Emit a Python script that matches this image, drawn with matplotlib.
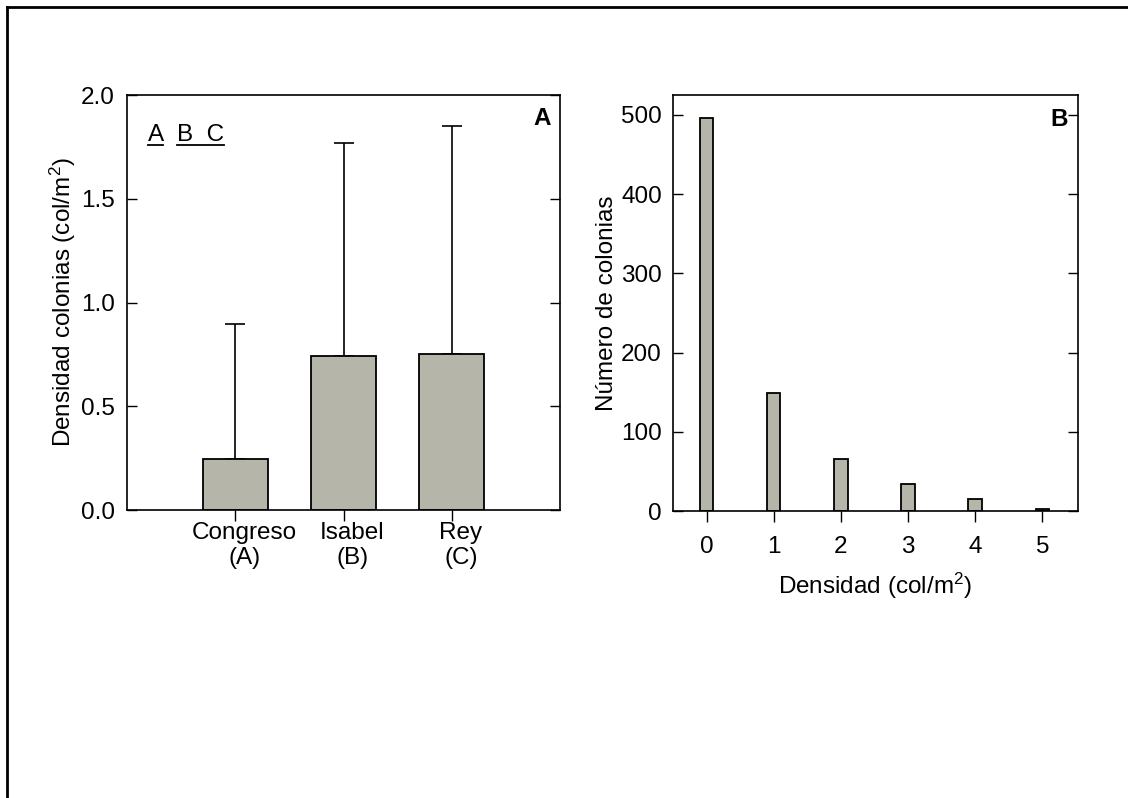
import numpy as np
import matplotlib
matplotlib.use("Agg")
import matplotlib.pyplot as plt
from matplotlib.lines import Line2D
from matplotlib.transforms import ScaledTranslation, blended_transform_factory

plt.rcParams["font.family"] = ["Liberation Sans", "DejaVu Sans"]
plt.rcParams["mathtext.fontset"] = "custom"
plt.rcParams["mathtext.rm"] = "Liberation Sans"
plt.rcParams["mathtext.it"] = "Liberation Sans"

# Panel A: mean density per site with upper SD
sites = ["Congreso\n(A)", "Isabel\n(B)", "Rey\n(C)"]
density_mean = [0.245, 0.744, 0.752]
density_upper = [0.898, 1.770, 1.850]

# Panel B: frequency of colony densities
density_class = [0, 1, 2, 3, 4, 5]
n_colonies = [496, 149, 66, 34, 15, 2]

bar_color = "#b5b5a9"
fs = 17.5

fig = plt.figure(figsize=(11.28, 7.98), dpi=100)

# frame lines of the original (left and top only)
fig.add_artist(Line2D([6.5 / 1128, 6.5 / 1128], [0, 1 - 7 / 798], transform=fig.transFigure,
                      color="black", lw=2))
fig.add_artist(Line2D([6.5 / 1128, 1], [1 - 7 / 798, 1 - 7 / 798], transform=fig.transFigure,
                      color="black", lw=2))

# ---- Panel A ----
ax1 = fig.add_axes([0.1126, 0.3609, 0.3839, 0.5200])
pos = np.arange(1, len(sites) + 1)
err = np.array(density_upper) - np.array(density_mean)
ax1.bar(pos, density_mean, width=0.6, color=bar_color, edgecolor="black", linewidth=1.3, zorder=2)
ax1.errorbar(pos, density_mean, yerr=[np.zeros(len(err)), err], fmt="none", ecolor="black",
             elinewidth=1.2, capsize=7, capthick=1.2, zorder=1)
ax1.set_xlim(0, 4)
ax1.set_ylim(0, 2.0)
ax1.set_xticks(pos)
ax1.set_xticklabels([])
# site labels sit slightly right of their ticks in the original
lbl_tr = blended_transform_factory(ax1.transData, ax1.transAxes) + \
    ScaledTranslation(9 / 100, -12 / 100, fig.dpi_scale_trans)
for p, name in zip(pos, sites):
    ax1.text(p, 0, name, transform=lbl_tr, ha="center", va="top", fontsize=fs, linespacing=1.2)
ax1.set_yticks([0, 0.5, 1.0, 1.5, 2.0])
ax1.set_yticklabels(["0.0", "0.5", "1.0", "1.5", "2.0"])
ax1.tick_params(axis="y", direction="in", right=True, length=7, width=1, labelsize=fs, pad=9)
ax1.tick_params(axis="x", direction="out", length=8, width=1, pad=2)
ax1.set_ylabel("Densidad colonias (col/m$^2$)", fontsize=fs, labelpad=2)
ax1.text(0.978, 0.972, "A", transform=ax1.transAxes, ha="right", va="top", fontsize=fs,
         fontweight="bold")
# significance groups: A differs, B and C do not
ax1.text(0.048, 0.89, "A", transform=ax1.transAxes, ha="left", va="baseline", fontsize=fs)
ax1.text(0.115, 0.89, "B  C", transform=ax1.transAxes, ha="left", va="baseline", fontsize=fs)
ax1.plot([0.048, 0.083], [0.88, 0.88], transform=ax1.transAxes, color="black", lw=1.3)
ax1.plot([0.115, 0.224], [0.88, 0.88], transform=ax1.transAxes, color="black", lw=1.3)
for s in ax1.spines.values():
    s.set_linewidth(1.2)

# ---- Panel B ----
ax2 = fig.add_axes([0.5966, 0.3596, 0.3590, 0.5213])
ax2.bar(density_class, n_colonies, width=0.2, color=bar_color, edgecolor="black", linewidth=1.3)
ax2.set_xlim(-0.5, 5.53)
ax2.set_ylim(0, 525)
ax2.set_xticks(density_class)
ax2.set_yticks([0, 100, 200, 300, 400, 500])
ax2.tick_params(axis="y", direction="in", right=True, length=7, width=1, labelsize=fs, pad=8)
ax2.tick_params(axis="x", direction="out", length=8, width=1, labelsize=fs, pad=10)
ax2.set_xlabel("Densidad (col/m$^2$)", fontsize=fs, labelpad=9)
ax2.set_ylabel("Número de colonias", fontsize=fs, labelpad=2)
ax2.text(0.975, 0.97, "B", transform=ax2.transAxes, ha="right", va="top", fontsize=fs,
         fontweight="bold")
for s in ax2.spines.values():
    s.set_linewidth(1.2)

fig.savefig("out.png", dpi=100)
